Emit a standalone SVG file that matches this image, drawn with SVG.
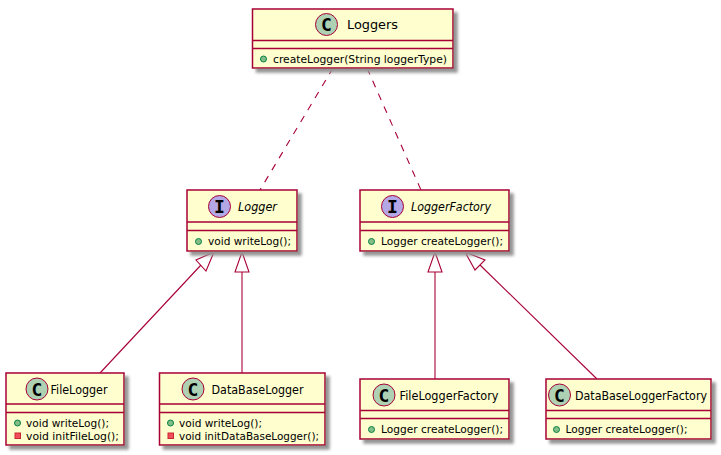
<svg xmlns="http://www.w3.org/2000/svg" width="721" height="455" viewBox="0 0 721 455">
<style>
text{font-family:"DejaVu Sans","Liberation Sans",sans-serif;fill:#000}
.box{fill:#FEFECE;stroke:#A80036;stroke-width:1.5;filter:url(#sh)}
.div{stroke:#A80036;stroke-width:1.5;fill:none}
.t{font-size:12.5px}
.i{font-style:italic}
.m{font-size:10.8px}
.badgeC{fill:#ADD1B2;stroke:#A80036;stroke-width:1}
.badgeI{fill:#B4A7E5;stroke:#A80036;stroke-width:1}
.L{font-family:"DejaVu Sans Mono","Liberation Mono",monospace;font-weight:bold;font-size:18px;text-anchor:middle}
.pub{fill:#84BE84;stroke:#038048;stroke-width:1}
.pri{fill:#F24D5C;stroke:#C82930;stroke-width:1}
.ln{stroke:#A80036;stroke-width:1.1;fill:none}
.dash{stroke-dasharray:7 7}
.tri{stroke:#A80036;stroke-width:1.1;fill:#fff}
</style>
<defs>
<filter id="sh" x="-10%" y="-15%" width="125%" height="135%">
<feGaussianBlur in="SourceAlpha" stdDeviation="1.8"/>
<feOffset dx="4" dy="4"/>
<feColorMatrix values="0 0 0 0 0.3 0 0 0 0 0.3 0 0 0 0 0.3 0 0 0 1 0"/>
<feMerge><feMergeNode/><feMergeNode in="SourceGraphic"/></feMerge>
</filter>
</defs>
<g id="connectors">
<path class="ln dash" d="M333 68L260 190"/>
<path class="ln dash" d="M367 68L421 190"/>
<path class="ln" d="M100 373L201 265"/>
<path class="ln" d="M242 373V272"/>
<path class="ln" d="M435 379V272"/>
<path class="ln" d="M597 379L480 265"/>
<polygon class="tri" points="214,252 196,260 206,271"/>
<polygon class="tri" points="242,252 235,272 249,272"/>
<polygon class="tri" points="435,252 428,272 442,272"/>
<polygon class="tri" points="465,252 475,270 485,260"/>
</g>
<g id="Loggers">
<rect class="box" x="252.500" y="9" width="200.500" height="59"/>
<path class="div" d="M252.500 40.500H453M252.500 48.500H453"/>
<circle class="badgeC" cx="326.500" cy="24.500" r="11"/>
<text class="L" x="326.500" y="31">C</text>
<text class="t" x="347" y="29" textLength="51" lengthAdjust="spacingAndGlyphs">Loggers</text>
<circle class="pub" cx="263.500" cy="59" r="3"/>
<text class="m" x="273" y="63" textLength="174" lengthAdjust="spacingAndGlyphs">createLogger(String loggerType)</text>
</g>
<g id="Logger">
<rect class="box" x="187" y="190" width="110" height="61"/>
<path class="div" d="M187 222H297M187 230.500H297"/>
<circle class="badgeI" cx="219.500" cy="206.500" r="11"/>
<text class="L" x="219.500" y="213">I</text>
<text class="t i" x="238" y="211" textLength="39" lengthAdjust="spacingAndGlyphs">Logger</text>
<circle class="pub" cx="198.500" cy="241.500" r="3"/>
<text class="m" x="208" y="245" textLength="83" lengthAdjust="spacingAndGlyphs">void writeLog();</text>
</g>
<g id="LoggerFactory">
<rect class="box" x="360" y="190" width="149" height="61"/>
<path class="div" d="M360 222H509M360 230.500H509"/>
<circle class="badgeI" cx="392.500" cy="206.500" r="11"/>
<text class="L" x="392.500" y="213">I</text>
<text class="t i" x="411" y="211" textLength="80" lengthAdjust="spacingAndGlyphs">LoggerFactory</text>
<circle class="pub" cx="371.500" cy="241.500" r="3"/>
<text class="m" x="381" y="245" textLength="122" lengthAdjust="spacingAndGlyphs">Logger createLogger();</text>
</g>
<g id="FileLogger">
<rect class="box" x="6" y="373" width="118" height="72"/>
<path class="div" d="M6 404H124M6 412.500H124"/>
<circle class="badgeC" cx="37" cy="389" r="11"/>
<text class="L" x="37" y="395.500">C</text>
<text class="t" x="50.500" y="394" textLength="57" lengthAdjust="spacingAndGlyphs">FileLogger</text>
<circle class="pub" cx="17.500" cy="423" r="3"/>
<rect class="pri" x="15" y="433" width="5.500" height="5.500"/>
<text class="m" x="26" y="427" textLength="83" lengthAdjust="spacingAndGlyphs">void writeLog();</text>
<text class="m" x="26" y="440" textLength="93" lengthAdjust="spacingAndGlyphs">void initFileLog();</text>
</g>
<g id="DataBaseLogger">
<rect class="box" x="159.500" y="373" width="165.500" height="72"/>
<path class="div" d="M159.500 404H325M159.500 412.500H325"/>
<circle class="badgeC" cx="193" cy="389" r="11"/>
<text class="L" x="193" y="395.500">C</text>
<text class="t" x="211.500" y="394" textLength="92" lengthAdjust="spacingAndGlyphs">DataBaseLogger</text>
<circle class="pub" cx="170.500" cy="423" r="3"/>
<rect class="pri" x="168" y="433" width="5.500" height="5.500"/>
<text class="m" x="179" y="427" textLength="83" lengthAdjust="spacingAndGlyphs">void writeLog();</text>
<text class="m" x="179" y="440" textLength="140" lengthAdjust="spacingAndGlyphs">void initDataBaseLogger();</text>
</g>
<g id="FileLoggerFactory">
<rect class="box" x="360" y="379" width="149" height="60"/>
<path class="div" d="M360 410.500H509M360 418.500H509"/>
<circle class="badgeC" cx="384" cy="395" r="11"/>
<text class="L" x="384" y="401.500">C</text>
<text class="t" x="399.500" y="400" textLength="99" lengthAdjust="spacingAndGlyphs">FileLoggerFactory</text>
<circle class="pub" cx="371.500" cy="429.500" r="3"/>
<text class="m" x="381" y="433" textLength="122" lengthAdjust="spacingAndGlyphs">Logger createLogger();</text>
</g>
<g id="DataBaseLoggerFactory">
<rect class="box" x="546" y="379" width="165" height="60"/>
<path class="div" d="M546 410.500H711M546 418.500H711"/>
<circle class="badgeC" cx="559.500" cy="395" r="11"/>
<text class="L" x="559.500" y="401.500">C</text>
<text class="t" x="575" y="400" textLength="132" lengthAdjust="spacingAndGlyphs">DataBaseLoggerFactory</text>
<circle class="pub" cx="556.500" cy="429.500" r="3"/>
<text class="m" x="565.500" y="433" textLength="122" lengthAdjust="spacingAndGlyphs">Logger createLogger();</text>
</g>
</svg>
